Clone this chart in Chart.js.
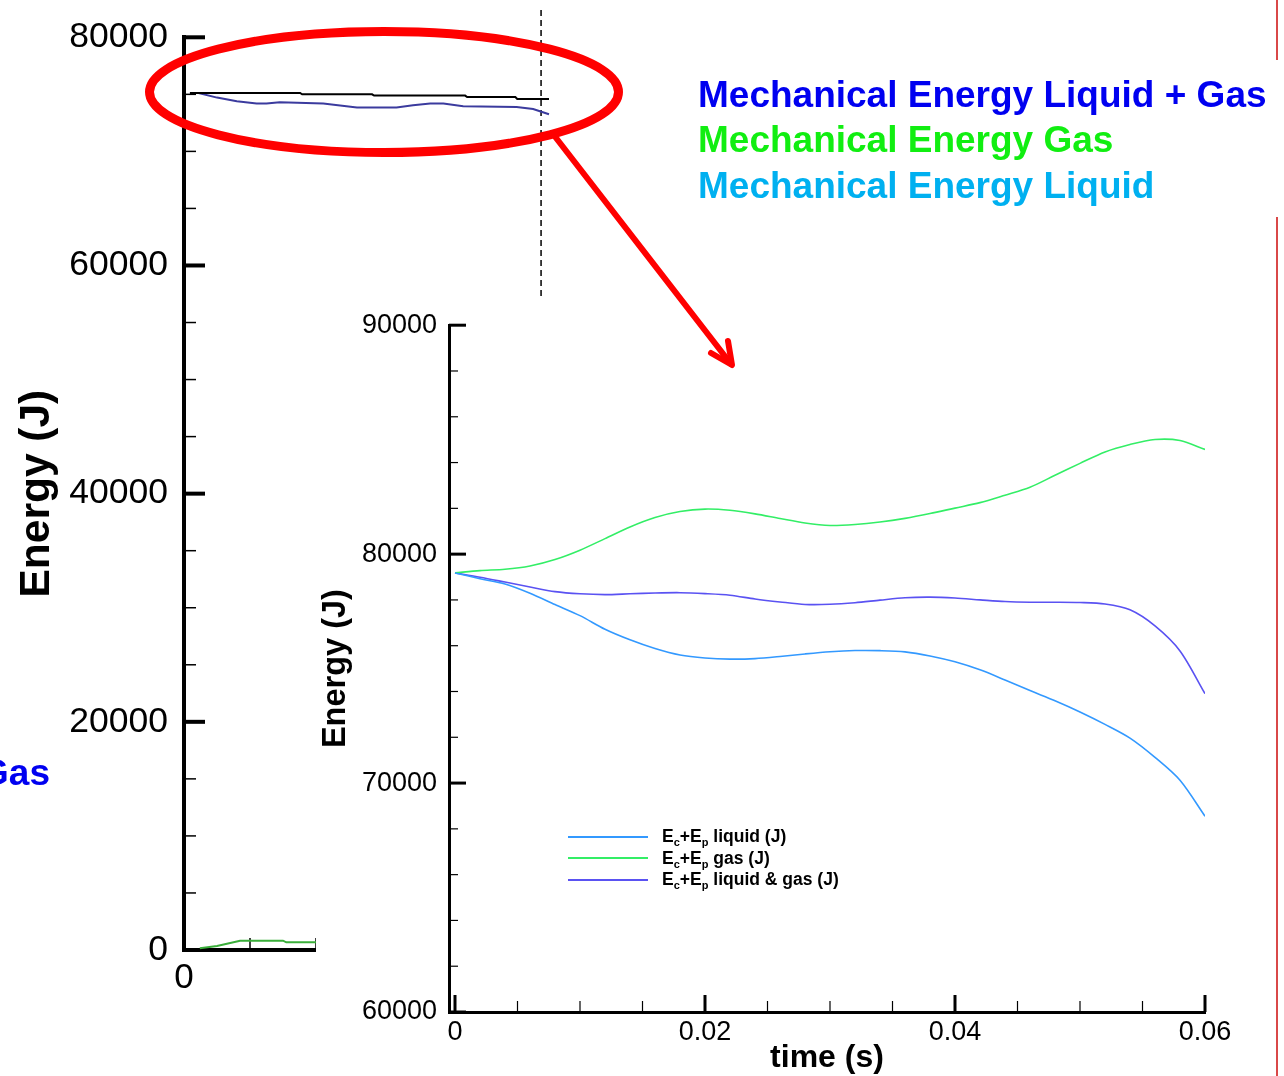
<!DOCTYPE html>
<html>
<head>
<meta charset="utf-8">
<script src="https://cdn.jsdelivr.net/npm/chart.js@4.4.1/dist/chart.umd.min.js"></script>
<style>
  html, body { margin: 0; padding: 0; background: #fff; }
  body { width: 1284px; height: 1076px; overflow: hidden; position: relative;
         font-family: "Liberation Sans", Arial, Helvetica, sans-serif; }
  #bg { position: absolute; left: 0; top: 0; }
  #insetBox { position: absolute; left: 316px; top: 297px; width: 968px; height: 779px; background: #fff; }
  #inset { position: absolute; left: 0; top: 0; }
  .big { position: absolute; font-weight: bold; font-size: 37px; line-height: 45px; white-space: nowrap; }
  #insetLegend { position: absolute; left: 568px; top: 826px; font-weight: bold; font-size: 17.5px; color: #000; }
  #insetLegend .row { height: 21.5px; display: flex; align-items: center; white-space: nowrap; }
  #insetLegend .swatch { width: 80px; height: 2px; margin-right: 14px; }
  #insetLegend sub { font-size: 11px; vertical-align: -4px; line-height: 0; }
  #callout { position: absolute; left: 0; top: 0; pointer-events: none; }
</style>
</head>
<body>
<canvas id="bg" width="1284" height="1076"></canvas>
<div id="insetBox"><canvas id="inset" width="968" height="779"></canvas></div>

<div class="big" id="capTotal" style="left:698px; top:72px;">Mechanical Energy Liquid + Gas</div>
<div class="big" id="capGas" style="left:698px; top:117px;">Mechanical Energy Gas</div>
<div class="big" id="capLiquid" style="left:698px; top:163px;">Mechanical Energy Liquid</div>
<div class="big" id="capTotalLeft" style="right:1234px; top:750px;">Mechanical Energy Liquid + Gas</div>

<div id="insetLegend">
  <div class="row"><span class="swatch" id="swLiquid"></span><span>E<sub>c</sub>+E<sub>p</sub> liquid (J)</span></div>
  <div class="row"><span class="swatch" id="swGas"></span><span>E<sub>c</sub>+E<sub>p</sub> gas (J)</span></div>
  <div class="row"><span class="swatch" id="swTotal"></span><span>E<sub>c</sub>+E<sub>p</sub> liquid &amp; gas (J)</span></div>
</div>

<svg id="callout" width="1284" height="1076">
  <ellipse cx="384" cy="92" rx="234.5" ry="60.5" fill="none" stroke="#ff0000" stroke-width="9"/>
  <line x1="553" y1="134" x2="731" y2="364" stroke="#ff0000" stroke-width="6" stroke-linecap="round"/>
  <polyline points="711,353 732,365 728,341" fill="none" stroke="#ff0000" stroke-width="6"
            stroke-linecap="round" stroke-linejoin="round"/>
  <line x1="1277" y1="0" x2="1277" y2="60" stroke="#d94848" stroke-width="2"/>
  <line x1="1277" y1="217" x2="1277" y2="1076" stroke="#d94848" stroke-width="2"/>
</svg>

<script>
// ---- Zoomed view: time (s) vs mechanical energy Ec+Ep (J) ----
const insetTime = [0, 0.002, 0.004, 0.006, 0.008, 0.010, 0.012, 0.014, 0.016, 0.018,
                   0.020, 0.022, 0.024, 0.026, 0.028, 0.030, 0.032, 0.034, 0.036, 0.038,
                   0.040, 0.042, 0.044, 0.046, 0.048, 0.050, 0.052, 0.054, 0.056, 0.058, 0.060];
const liquidEnergy = [79180, 78928, 78693, 78290, 77799, 77313, 76718, 76257, 75876, 75593,
                      75463, 75415, 75437, 75528, 75641, 75736, 75788, 75784, 75732, 75554,
                      75298, 74946, 74503, 74039, 73596, 73105, 72563, 71963, 71121, 70122, 68551];
const gasEnergy    = [79180, 79280, 79340, 79484, 79766, 80174, 80678, 81186, 81598, 81859,
                      81967, 81915, 81759, 81555, 81359, 81251, 81294, 81403, 81563, 81772,
                      82011, 82249, 82575, 82922, 83443, 83965, 84464, 84790, 85007, 84963, 84573];
const totalEnergy  = [79180, 78993, 78780, 78563, 78363, 78268, 78233, 78268, 78303, 78316,
                      78277, 78207, 78042, 77912, 77803, 77808, 77877, 77990, 78094, 78120,
                      78081, 78003, 77929, 77899, 77899, 77886, 77821, 77569, 76866, 75771, 73904];

const insetTimeTicks = [0, 0.02, 0.04, 0.06];
const insetTimeTickLabels = ['0', '0.02', '0.04', '0.06'];
const insetEnergyTicks = [60000, 70000, 80000, 90000];
const insetEnergyTickLabels = ['60000', '70000', '80000', '90000'];

// ---- Full view behind the zoom ----
const bgTotalTime   = [0.0009, 0.0176, 0.0179, 0.0285, 0.0288, 0.0426, 0.0429, 0.0502, 0.0505, 0.0553];
const bgTotalEnergy = [75117, 75117, 75003, 75003, 74890, 74890, 74765, 74765, 74590, 74590];
const bgLiquidTime   = [0.0009, 0.0022, 0.0050, 0.0080, 0.0110, 0.0125, 0.0145, 0.0211, 0.0262,
                        0.0322, 0.0347, 0.0373, 0.0393, 0.0423, 0.0504, 0.0529, 0.0553];
const bgLiquidEnergy = [75117, 75117, 74714, 74389, 74188, 74188, 74302, 74188, 73838,
                        73838, 74039, 74188, 74188, 73951, 73892, 73716, 73250];
const bgGasTime   = [0.0024, 0.0050, 0.0085, 0.0150, 0.0155, 0.0198, 0.0250];
const bgGasEnergy = [149, 350, 815, 815, 675, 675, 675];
const zoomEndTime = 0.0541;
const zoomEndSpan = [82400, 50000];

const bgTimeTicks = [0];
const bgTimeTickLabels = ['0'];
const bgEnergyTicks = [0, 20000, 40000, 60000, 80000];
const bgEnergyTickLabels = ['0', '20000', '40000', '60000', '80000'];

// colours
const cLiquid = '#3399ff', cGas = '#33ee66', cTotal = '#5a52f2';
document.getElementById('swLiquid').style.background = cLiquid;
document.getElementById('swGas').style.background = cGas;
document.getElementById('swTotal').style.background = cTotal;
document.getElementById('capTotal').style.color = '#0000f0';
document.getElementById('capGas').style.color = '#11ee11';
document.getElementById('capLiquid').style.color = '#00b0f0';
document.getElementById('capTotalLeft').style.color = '#0000f0';

const FONT = "'Liberation Sans', Arial, Helvetica, sans-serif";
Chart.defaults.color = '#000';
Chart.defaults.font.family = FONT;

function pts(xs, ys) { return xs.map((x, i) => ({ x: x, y: ys[i] })); }
function between(lo, hi, step, skip) {
  const out = [];
  for (let v = lo; v <= hi + step * 1e-6; v += step) {
    const r = Math.round(v * 1e6) / 1e6;
    if (!skip.some(s => Math.abs(s - r) < step * 1e-3)) out.push(r);
  }
  return out;
}

// tick marks drawn on the inside of the plot frame
const innerTicks = {
  id: 'innerTicks',
  beforeDatasetsDraw(chart, args, opts) {
    const ctx = chart.ctx, area = chart.chartArea;
    ctx.save();
    ctx.strokeStyle = '#000';
    ctx.lineCap = 'butt';
    for (const spec of opts.axes) {
      const scale = chart.scales[spec.id];
      const mark = (v, len, w) => {
        const p = scale.getPixelForValue(v);
        ctx.lineWidth = w;
        ctx.beginPath();
        if (scale.isHorizontal()) {
          if (p < area.left - 1 || p > area.right + 1) return;
          ctx.moveTo(p, area.bottom); ctx.lineTo(p, area.bottom - len);
        } else {
          if (p < area.top - 1 || p > area.bottom + 1) return;
          ctx.moveTo(area.left, p); ctx.lineTo(area.left + len, p);
        }
        ctx.stroke();
      };
      spec.minor.forEach(v => mark(v, spec.minorLen, spec.minorWidth));
      spec.major.forEach(v => mark(v, spec.majorLen, spec.majorWidth));
    }
    ctx.restore();
  }
};

function lineSet(data, color, width) {
  return { data: data, borderColor: color, borderWidth: width, pointRadius: 0,
           fill: false, tension: 0 };
}

// full view
new Chart(document.getElementById('bg'), {
  type: 'line',
  data: {
    datasets: [
      lineSet(pts(bgTotalTime, bgTotalEnergy), '#000000', 2),
      lineSet(pts(bgLiquidTime, bgLiquidEnergy), '#3b3b9e', 2),
      lineSet(pts(bgGasTime, bgGasEnergy), '#3aae3a', 2),
      Object.assign(lineSet([{ x: zoomEndTime, y: zoomEndSpan[0] }, { x: zoomEndTime, y: zoomEndSpan[1] }], '#000000', 1.5),
                    { borderDash: [6, 4], clip: false })
    ]
  },
  options: {
    responsive: false, animation: false, events: [],
    layout: { padding: { top: 37, right: 44, left: 0, bottom: 0 } },
    plugins: {
      legend: { display: false }, tooltip: { enabled: false },
      innerTicks: { axes: [
        { id: 'y', major: bgEnergyTicks, minor: between(0, 80000, 5000, bgEnergyTicks),
          majorLen: 21, minorLen: 12, majorWidth: 4, minorWidth: 1.5 },
        { id: 'x', major: bgTimeTicks, minor: between(0.01, 0.16, 0.01, bgTimeTicks),
          majorLen: 21, minorLen: 12, majorWidth: 4, minorWidth: 1.5 }
      ] }
    },
    scales: {
      x: {
        type: 'linear', min: 0, max: 0.16,
        afterFit(s) { s.height = 126; },
        afterBuildTicks(s) { s.ticks = bgTimeTicks.map(v => ({ value: v })); },
        ticks: { callback: (v, i) => bgTimeTickLabels[i], font: { size: 35 }, padding: 7,
                 maxRotation: 0, autoSkip: false },
        grid: { drawOnChartArea: false, drawTicks: false },
        border: { width: 4, color: '#000' }
      },
      y: {
        type: 'linear', min: 0, max: 80000,
        afterFit(s) { s.width = 184; },
        afterBuildTicks(s) { s.ticks = bgEnergyTicks.map(v => ({ value: v })); },
        ticks: { callback: (v, i) => bgEnergyTickLabels[i], font: { size: 35.5 }, padding: 16, autoSkip: false },
        grid: { drawOnChartArea: false, drawTicks: false },
        border: { width: 4, color: '#000' },
        title: { display: true, text: 'Energy (J)', font: { size: 42.5, weight: 'bold', lineHeight: 1.2 },
                 padding: { top: 12, bottom: 0 } }
      }
    }
  },
  plugins: [innerTicks]
});

// zoomed view
new Chart(document.getElementById('inset'), {
  type: 'line',
  data: {
    datasets: [
      Object.assign(lineSet(pts(insetTime, liquidEnergy), cLiquid, 1.6), { label: 'Ec+Ep liquid (J)', tension: 0.3 }),
      Object.assign(lineSet(pts(insetTime, gasEnergy), cGas, 1.6), { label: 'Ec+Ep gas (J)', tension: 0.3 }),
      Object.assign(lineSet(pts(insetTime, totalEnergy), cTotal, 1.6), { label: 'Ec+Ep liquid & gas (J)', tension: 0.3 })
    ]
  },
  options: {
    responsive: false, animation: false, events: [],
    layout: { padding: { top: 24, right: 79, left: 0, bottom: 0 } },
    plugins: {
      legend: { display: false }, tooltip: { enabled: false },
      innerTicks: { axes: [
        { id: 'y', major: insetEnergyTicks, minor: between(60000, 90000, 2000, insetEnergyTicks),
          majorLen: 17, minorLen: 9, majorWidth: 3, minorWidth: 1.2 },
        { id: 'x', major: insetTimeTicks, minor: between(0, 0.06, 0.005, insetTimeTicks),
          majorLen: 17, minorLen: 11, majorWidth: 3, minorWidth: 1.2 }
      ] }
    },
    scales: {
      x: {
        type: 'linear', min: -0.00048, max: 0.06,
        afterFit(s) { s.height = 64; },
        afterBuildTicks(s) { s.ticks = insetTimeTicks.map(v => ({ value: v })); },
        ticks: { callback: (v, i) => insetTimeTickLabels[i], font: { size: 27 }, padding: 4,
                 maxRotation: 0, autoSkip: false },
        grid: { drawOnChartArea: false, drawTicks: false },
        border: { width: 3, color: '#000' },
        title: { display: true, text: 'time (s)', font: { size: 32, weight: 'bold', lineHeight: 1 },
                 padding: { top: 0, bottom: 2 } }
      },
      y: {
        type: 'linear', min: 60000, max: 90000,
        afterFit(s) { s.width = 133; },
        afterBuildTicks(s) { s.ticks = insetEnergyTicks.map(v => ({ value: v })); },
        ticks: { callback: (v, i) => insetEnergyTickLabels[i], font: { size: 27 }, padding: 12, autoSkip: false },
        grid: { drawOnChartArea: false, drawTicks: false },
        border: { width: 3, color: '#000' },
        title: { display: true, text: 'Energy (J)', font: { size: 32.5, weight: 'bold', lineHeight: 1.2 },
                 padding: { top: 1, bottom: 0 } }
      }
    }
  },
  plugins: [innerTicks]
});
</script>
</body>
</html>
